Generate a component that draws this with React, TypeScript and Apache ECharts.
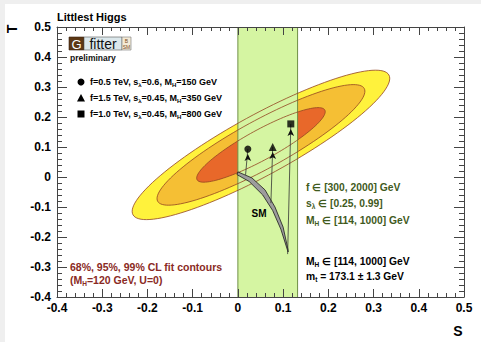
import React, { useEffect, useRef } from "react";
import * as echarts from "echarts";

// ---- axes ----
const xMin = -0.4;
const xMax = 0.5;
const yMin = -0.4;
const yMax = 0.5;
const tickStep = 0.1;

// ---- fit contours (ellipse: centre, half-axes vectors, CL scales) ----
const contourCenter = [0.051, 0.107];
const contourMajor = [0.283, 0.233];
const contourMinor = [0.032, -0.088];
const contourScales = [1.0, 0.807, 0.499]; // 99%, 95%, 68%
const contourColors = ["#fff23c", "#f5bf34", "#e8682a"];

// ---- Littlest Higgs allowed S band ----
const bandS = [0, 0.132];

// ---- SM band (upper / lower edges) ----
const smUpperS = [0.0, 0.031, 0.06, 0.082, 0.1, 0.111];
const smUpperT = [0.017, -0.003, -0.043, -0.1, -0.167, -0.243];
const smLowerS = [-0.002, 0.025, 0.055, 0.077, 0.095, 0.111];
const smLowerT = [0.008, -0.015, -0.06, -0.112, -0.174, -0.25];

// ---- benchmark points ----
const pointS = [0.022, 0.077, 0.117];
const pointT = [0.093, 0.1, 0.177];
const arrowStartS = [0.017, 0.073, 0.11];
const arrowStartT = [0.007, -0.087, -0.257];
const pointSymbols = ["circle", "triangle", "rect"];
const pointSizes = [7, 8, 7];
const pointLabels = [
  "f=0.5 TeV, s{sub|λ}=0.6, M{sub|H}=150 GeV",
  "f=1.5 TeV, s{sub|λ}=0.45, M{sub|H}=350 GeV",
  "f=1.0 TeV, s{sub|λ}=0.45, M{sub|H}=800 GeV",
];

const FF = '"Liberation Sans", Arial, Helvetica, sans-serif';

const fmt = (v: number) => {
  const r = Math.round(v * 10) / 10;
  return r === 0 ? "0" : String(r);
};

const ellipsePoints = (api: any, k: number) => {
  const pts: number[][] = [];
  const n = 120;
  for (let i = 0; i < n; i++) {
    const t = (i / n) * Math.PI * 2;
    const c = Math.cos(t);
    const s = Math.sin(t);
    pts.push(
      api.coord([
        contourCenter[0] + k * (contourMajor[0] * c + contourMinor[0] * s),
        contourCenter[1] + k * (contourMajor[1] * c + contourMinor[1] * s),
      ])
    );
  }
  return pts;
};

const subRich = (size: number, pad: number, color: string) => ({
  sub: {
    fontSize: size,
    fontWeight: "bold",
    fontFamily: FF,
    fill: color,
    padding: [pad, 0, 0, 0],
  },
});

const richText = (
  x: number,
  y: number,
  text: string,
  size: number,
  color: string,
  subSize = 6.5,
  pad = 7
) => ({
  type: "text",
  x,
  y,
  z: 50,
  style: {
    text,
    fill: color,
    fontSize: size,
    fontWeight: "bold",
    fontFamily: FF,
    align: "left",
    verticalAlign: "middle",
    rich: subRich(subSize, pad, color),
  },
});

export default function App() {
  const ref = useRef<HTMLDivElement>(null);

  useEffect(() => {
    if (!ref.current) return;
    const chart = echarts.init(ref.current, undefined, { renderer: "svg" });

    const axisCommon = {
      type: "value",
      min: xMin,
      max: xMax,
      interval: tickStep,
      z: 20,
      splitLine: { show: false },
      axisLine: { show: true, onZero: false, lineStyle: { color: "#444", width: 1 } },
      axisTick: { show: true, inside: true, length: 8, lineStyle: { color: "#444" } },
      minorTick: { show: true, splitNumber: 5, length: 4, lineStyle: { color: "#444" } },
    };

    const yCommon = {
      ...axisCommon,
      min: yMin,
      max: yMax,
      axisTick: { show: true, inside: true, length: 10, lineStyle: { color: "#444" } },
      minorTick: { show: true, splitNumber: 5, length: 5, lineStyle: { color: "#444" } },
    };

    const labelStyle = {
      fontSize: 12,
      fontWeight: "bold",
      fontFamily: FF,
      color: "#000",
      formatter: fmt,
    };

    const smPolygon = [
      ...smUpperS.map((s, i) => [s, smUpperT[i]]),
      ...smLowerS.map((s, i) => [s, smLowerT[i]]).reverse(),
    ];

    const series: any[] = [
      {
        type: "custom",
        name: "contours",
        z: 1,
        data: contourScales.map((k, i) => [k, i]),
        renderItem: (params: any, api: any) => {
          const k = api.value(0);
          const idx = api.value(1);
          return {
            type: "polygon",
            shape: { points: ellipsePoints(api, k) },
            style: { fill: contourColors[idx], stroke: "none" },
          };
        },
      },
      {
        type: "custom",
        name: "band",
        z: 2,
        data: [[bandS[0], bandS[1]]],
        renderItem: (params: any, api: any) => {
          const p0 = api.coord([api.value(0), yMax]);
          const p1 = api.coord([api.value(1), yMin]);
          return {
            type: "group",
            children: [
              {
                type: "rect",
                shape: { x: p0[0], y: p0[1], width: p1[0] - p0[0], height: p1[1] - p0[1] },
                style: { fill: "#d5f5a2" },
              },
              {
                type: "line",
                shape: { x1: p0[0], y1: p0[1], x2: p0[0], y2: p1[1] },
                style: { stroke: "#6f8f45", lineWidth: 1 },
              },
              {
                type: "line",
                shape: { x1: p1[0], y1: p0[1], x2: p1[0], y2: p1[1] },
                style: { stroke: "#6f8f45", lineWidth: 1 },
              },
            ],
          };
        },
      },
      {
        type: "custom",
        name: "contourLines",
        z: 3,
        data: contourScales.map((k, i) => [k, i]),
        renderItem: (params: any, api: any) => {
          const k = api.value(0);
          return {
            type: "polygon",
            shape: { points: ellipsePoints(api, k) },
            style: { fill: "none", stroke: "#934421", lineWidth: 0.8 },
          };
        },
      },
      {
        type: "custom",
        name: "SM",
        z: 4,
        data: [[0, 0]],
        renderItem: (params: any, api: any) => ({
          type: "polygon",
          shape: { points: smPolygon.map((p) => api.coord(p)) },
          style: { fill: "#9c9c9c", stroke: "#1a1a1a", lineWidth: 0.8 },
        }),
      },
    ];

    pointS.forEach((s, i) => {
      series.push({
        type: "line",
        z: 5,
        silent: true,
        lineStyle: { color: "#333", width: 0.8 },
        showSymbol: true,
        data: [
          { value: [arrowStartS[i], arrowStartT[i]], symbol: "none" },
          {
            value: [s, pointT[i]],
            symbol: "arrow",
            symbolSize: [5, 7],
            symbolOffset: [0, 5],
            itemStyle: { color: "#111" },
          },
        ],
      });
      series.push({
        type: "scatter",
        z: 6,
        symbol: pointSymbols[i],
        symbolSize: pointSizes[i],
        itemStyle: { color: "#000" },
        data: [[s, pointT[i]]],
      });
    });

    const g: any[] = [
      {
        type: "text",
        x: 52,
        y: 13,
        style: {
          text: "Littlest Higgs",
          fill: "#000",
          fontSize: 11,
          fontWeight: "bold",
          fontFamily: FF,
          align: "left",
          verticalAlign: "middle",
        },
      },
      // Gfitter logo
      { type: "rect", shape: { x: 64, y: 33, width: 15, height: 13 }, style: { fill: "#5c3714", stroke: "#3a2410", lineWidth: 0.6 } },
      { type: "rect", shape: { x: 79, y: 33, width: 38, height: 13 }, style: { fill: "#dce8ec", stroke: "#555", lineWidth: 0.6 } },
      { type: "rect", shape: { x: 117, y: 33, width: 9, height: 13 }, style: { fill: "#f3ead6", stroke: "#777", lineWidth: 0.6 } },
      {
        type: "text",
        x: 71.5,
        y: 40,
        style: { text: "G", fill: "#fff", fontSize: 13, fontFamily: FF, align: "center", verticalAlign: "middle" },
      },
      {
        type: "text",
        x: 98,
        y: 40,
        style: { text: "fitter", fill: "#111", fontSize: 14, fontFamily: FF, align: "center", verticalAlign: "middle" },
      },
      {
        type: "text",
        x: 121.5,
        y: 36.5,
        style: { text: "B", fill: "#7a4a1a", fontSize: 5, fontFamily: FF, align: "center", verticalAlign: "middle" },
      },
      {
        type: "text",
        x: 121.5,
        y: 42.5,
        style: { text: "SM", fill: "#7a4a1a", fontSize: 5, fontFamily: FF, align: "center", verticalAlign: "middle" },
      },
      {
        type: "text",
        x: 65,
        y: 54,
        style: {
          text: "preliminary",
          fill: "#111",
          fontSize: 8.5,
          fontWeight: "bold",
          fontFamily: FF,
          align: "left",
          verticalAlign: "middle",
        },
      },
      // legend markers
      { type: "circle", shape: { cx: 76, cy: 78, r: 3.5 }, style: { fill: "#000" }, z: 50 },
      {
        type: "polygon",
        shape: { points: [[76, 90], [80, 97.5], [72, 97.5]] },
        style: { fill: "#000" },
        z: 50,
      },
      { type: "rect", shape: { x: 72.5, y: 106.5, width: 7, height: 7 }, style: { fill: "#000" }, z: 50 },
      richText(85, 78, pointLabels[0], 9, "#000", 6, 6),
      richText(85, 94, pointLabels[1], 9, "#000", 6, 6),
      richText(85, 110, pointLabels[2], 9, "#000", 6, 6),
      // ranges
      richText(301, 183, "f ∈ [300, 2000] GeV", 10.3, "#3f5a1c"),
      richText(301, 199, "s{sub|λ} ∈ [0.25, 0.99]", 10.3, "#3f5a1c"),
      richText(301, 216, "M{sub|H} ∈ [114, 1000] GeV", 10.3, "#3f5a1c"),
      richText(301, 257, "M{sub|H} ∈ [114, 1000] GeV", 10.3, "#000"),
      richText(301, 272, "m{sub|t} = 173.1 ± 1.3 GeV", 10.3, "#000"),
      // contours note
      richText(65, 263, "68%, 95%, 99% CL fit contours", 10.5, "#8a2a24"),
      richText(65, 276, "(M{sub|H}=120 GeV, U=0)", 10.5, "#8a2a24"),
      {
        type: "text",
        x: 254,
        y: 209,
        z: 50,
        style: {
          text: "SM",
          fill: "#000",
          fontSize: 10,
          fontWeight: "bold",
          fontFamily: FF,
          align: "center",
          verticalAlign: "middle",
        },
      },
      {
        type: "text",
        x: 453,
        y: 327,
        style: { text: "S", fill: "#000", fontSize: 14, fontWeight: "bold", fontFamily: FF, align: "center", verticalAlign: "middle" },
      },
      {
        type: "text",
        x: 7,
        y: 25,
        rotation: Math.PI / 2,
        style: { text: "T", fill: "#000", fontSize: 14, fontWeight: "bold", fontFamily: FF, align: "center", verticalAlign: "middle" },
      },
    ];

    chart.setOption({
      animation: false,
      backgroundColor: "#ffffff",
      grid: { left: 52, right: 17, top: 23, bottom: 45, containLabel: false },
      xAxis: [
        {
          ...axisCommon,
          position: "bottom",
          axisLabel: { ...labelStyle, margin: 5 },
        },
        {
          ...axisCommon,
          position: "top",
          axisLabel: { show: false },
        },
      ],
      yAxis: [
        {
          ...yCommon,
          position: "left",
          axisLabel: { ...labelStyle, margin: 6 },
        },
        {
          ...yCommon,
          position: "right",
          axisLabel: { show: false },
        },
      ],
      series,
      graphic: g,
    });

    return () => chart.dispose();
  }, []);

  return (
    <div
      style={{
        position: "fixed",
        left: 0,
        top: 0,
        width: 481,
        height: 342,
        background: "#efefef",
      }}
    >
      <div
        ref={ref}
        style={{
          position: "absolute",
          left: 5,
          top: 4,
          width: 476,
          height: 338,
          background: "#fff",
        }}
      />
    </div>
  );
}
